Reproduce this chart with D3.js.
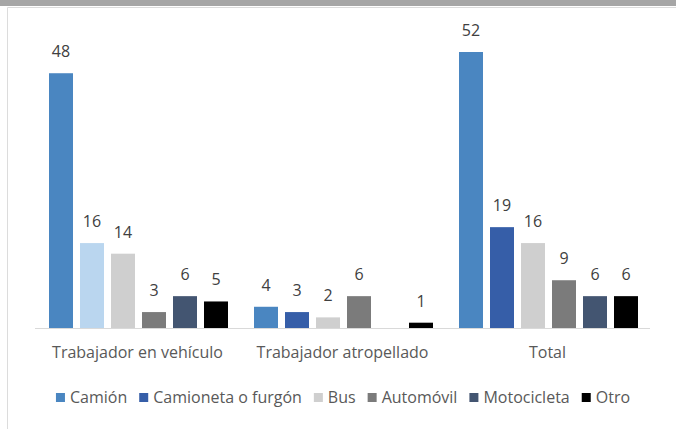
<!DOCTYPE html>
<html>
<head>
<meta charset="utf-8">
<script src="https://cdn.jsdelivr.net/npm/d3@7"></script>
<style>
  body { margin: 0; background: #fff; }
  text { font-family: "Open Sans", sans-serif; }
</style>
</head>
<body>
<div id="vis"></div>
<script>
// chart data
const GROUPS = ["Trabajador en vehículo", "Trabajador atropellado", "Total"];
const SERIES = ["Camión", "Camioneta o furgón", "Bus", "Automóvil", "Motocicleta", "Otro"];
const EN_VEHICULO = [48, 16, 14, 3, 6, 5];
const ATROPELLADO = [4, 3, 2, 6, null, 1];
const TOTAL = [52, 19, 16, 9, 6, 6];
const COLORS = ["#4a86c1", "#365ea8", "#cfcfcf", "#7b7b7b", "#435571", "#000000"];
// the first group draws its second bar in light blue in the original
const GROUP1_COLOR_2 = "#bad6ef";

const FRAME_WIDTH = 676;
const FRAME_HEIGHT = 429;
const PLOT = {left: 35, right: 650, top: 52, bottom: 328};

const svg = d3.select("#vis")
  .append("svg")
    .attr("width", FRAME_WIDTH)
    .attr("height", FRAME_HEIGHT);

// frame decoration: gray band on top, thin border
svg.append("rect")
  .attr("x", 0).attr("y", 0)
  .attr("width", FRAME_WIDTH).attr("height", 6)
  .attr("fill", "#a6a6a6");
svg.append("line")
  .attr("x1", 7.5).attr("x2", FRAME_WIDTH).attr("y1", 7.5).attr("y2", 7.5)
  .attr("stroke", "#dcdcdc");
svg.append("line")
  .attr("x1", 7.5).attr("x2", 7.5).attr("y1", 7.5).attr("y2", FRAME_HEIGHT)
  .attr("stroke", "#dcdcdc");

const rows = [EN_VEHICULO, ATROPELLADO, TOTAL];

const X0 = d3.scaleBand()
  .domain(GROUPS)
  .range([PLOT.left, PLOT.right]);

const X1 = d3.scaleBand()
  .domain(SERIES)
  .range([14, 193])
  .paddingInner(0.226);

const Y = d3.scaleLinear()
  .domain([0, 52])
  .range([PLOT.bottom, PLOT.top]);

const groupG = svg.selectAll(".group")
  .data(GROUPS)
  .enter()
  .append("g")
    .attr("class", "group")
    .attr("transform", (d) => "translate(" + X0(d) + ",0)");

groupG.each(function(g, gi) {
  const vals = SERIES.map((s, si) => ({s: s, si: si, v: rows[gi][si]}))
    .filter((d) => d.v != null);
  const sel = d3.select(this);
  sel.selectAll("rect")
    .data(vals)
    .enter()
    .append("rect")
      .attr("x", (d) => X1(d.s))
      .attr("y", (d) => Y(d.v))
      .attr("width", X1.bandwidth())
      .attr("height", (d) => Y(0) - Y(d.v))
      .attr("fill", (d) => (gi == 0 && d.si == 1) ? GROUP1_COLOR_2 : COLORS[d.si]);
  sel.selectAll(".val")
    .data(vals)
    .enter()
    .append("text")
      .attr("class", "val")
      .attr("x", (d) => X1(d.s) + X1.bandwidth() / 2)
      .attr("y", (d) => Y(d.v) - 16)
      .attr("text-anchor", "middle")
      .attr("font-size", "16px")
      .attr("fill", "#404040")
      .text((d) => d.v);
});

// baseline + category labels
const xAxis = svg.append("g")
  .attr("transform", "translate(0," + PLOT.bottom + ")")
  .call(d3.axisBottom(X0).tickSize(0).tickPadding(19));
xAxis.select(".domain").attr("stroke", "#d9d9d9").attr("d", "M" + PLOT.left + ",0.5H" + PLOT.right);
xAxis.selectAll("text")
  .attr("font-size", "16px")
  .attr("font-family", "Open Sans, sans-serif")
  .attr("fill", "#595959");

// legend
const legend = svg.append("g").attr("transform", "translate(0,403)");
let lx = 0;
const items = legend.selectAll(".item")
  .data(SERIES)
  .enter()
  .append("g")
    .attr("class", "item");
items.append("rect")
  .attr("x", 0).attr("y", -10)
  .attr("width", 9).attr("height", 9)
  .attr("fill", (d, i) => COLORS[i]);
items.append("text")
  .attr("x", 14)
  .attr("font-size", "16px")
  .attr("fill", "#595959")
  .text((d) => d);
items.each(function() {
  const w = this.getBBox().width;
  d3.select(this).attr("transform", "translate(" + lx + ",0)");
  lx += w + 12;
});
const legendW = lx - 12;
legend.attr("transform", "translate(" + (343 - legendW / 2) + ",403)");
</script>
</body>
</html>
